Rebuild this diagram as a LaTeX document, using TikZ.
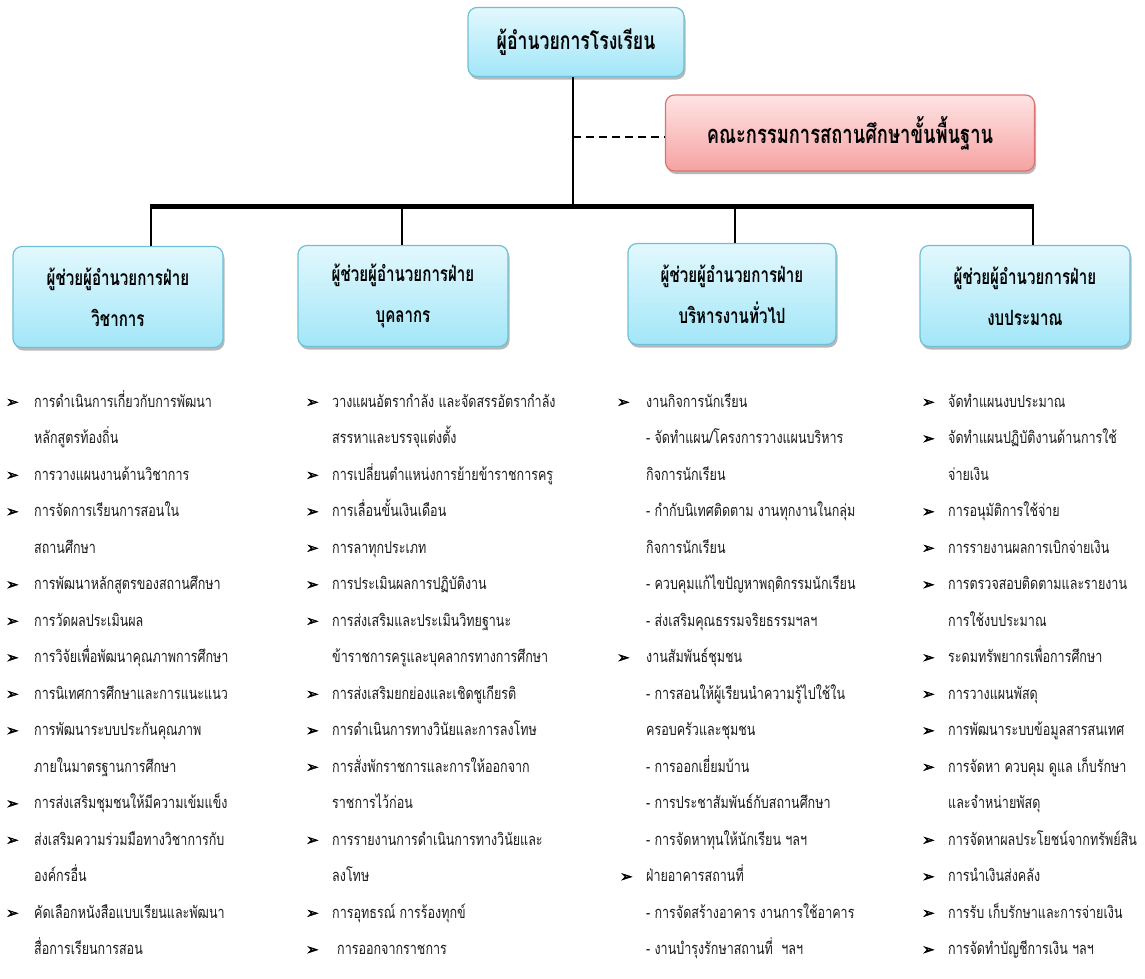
\documentclass[tikz,border=0pt]{standalone}
\usepackage{fontspec}
\usetikzlibrary{shadows}
\newfontfamily\thai[Script=Thai,FakeStretch=0.76]{Loma}
\newfontfamily\thaibox[Script=Thai,FakeStretch=0.72]{Loma}
\newfontfamily\sym[FakeBold=2.5]{DejaVu Sans}
\definecolor{boxtop}{HTML}{E2F8FD}
\definecolor{boxbot}{HTML}{A2E6F8}
\definecolor{boxline}{HTML}{6FC0D6}
\definecolor{redtop}{HTML}{FFE4E4}
\definecolor{redbot}{HTML}{F6A2A2}
\definecolor{redline}{HTML}{D87472}
\definecolor{txt}{HTML}{1C1C1C}
\tikzset{
  cbox/.style={draw=boxline, line width=1.2pt, rounded corners=9pt,
    top color=boxtop, bottom color=boxbot, align=center, text=black,
    drop shadow={shadow xshift=1.5pt, shadow yshift=-3pt, fill=black, opacity=0.28}},
  headbox/.style={cbox, minimum width=216pt, minimum height=69pt,
    font=\thaibox\bfseries\fontsize{24.5}{28}\selectfont},
  redbox/.style={cbox, draw=redline, top color=redtop, bottom color=redbot,
    minimum width=369pt, minimum height=76pt,
    font=\thaibox\bfseries\fontsize{25.5}{28}\selectfont},
  subbox/.style={cbox, minimum width=210pt, minimum height=101pt,
    font=\thaibox\bfseries\fontsize{21}{41}\selectfont},
  itm/.style={anchor=base west, inner sep=0pt, text=txt, font=\thai\fontsize{16.5}{18}\selectfont},
  bul/.style={anchor=base west, inner sep=0pt, text=black, font=\sym\fontsize{15}{16}\selectfont},
  link/.style={line width=2.2pt, black},
  barline/.style={line width=5pt, black},
  dashlink/.style={line width=2.6pt, black, dash pattern=on 8pt off 5pt}
}
\newcommand\lb[3]{\node[bul] (#1) at (#2,{407+36.5*(#3-1)}) {➢};}
\newcommand\lt[4]{\node[itm] (#1) at (#2,{407+36.5*(#3-1)}) {#4};}
\begin{document}
\begin{tikzpicture}[x=1pt,y=-1pt]
\useasboundingbox (0,0) rectangle (1145,978);
% boxes
\node[headbox] (dir) at (576,42) {ผู้อำนวยการโรงเรียน};
\node[redbox] (board) at (850,133) {คณะกรรมการสถานศึกษาขั้นพื้นฐาน};
\node[subbox] (a1) at (118,297) {ผู้ช่วยผู้อำนวยการฝ่าย\\วิชาการ};
\node[subbox] (a2) at (403,296) {ผู้ช่วยผู้อำนวยการฝ่าย\\บุคลากร};
\node[subbox, minimum width=208pt] (a3) at (732,294) {ผู้ช่วยผู้อำนวยการฝ่าย\\บริหารงานทั่วไป};
\node[subbox] (a4) at (1025,296) {ผู้ช่วยผู้อำนวยการฝ่าย\\งบประมาณ};
% connectors
\coordinate (j0) at (573,206);
\coordinate (b1) at (151,206);
\coordinate (b2) at (402,206);
\coordinate (b3) at (735,206);
\coordinate (b4) at (1033,206);
\coordinate (dj) at (573,137);
\draw[link] (dir.south -| j0) -- (j0);
\draw[dashlink] (dj) -- (dj -| board.west);
\draw[link] (b1) -- (b1 |- a1.north);
\draw[link] (b2) -- (b2 |- a2.north);
\draw[link] (b3) -- (b3 |- a3.north);
\draw[link] (b4) -- (b4 |- a4.north);
\draw[barline] ([xshift=-1pt]b1) -- ([xshift=1pt]b4);
% column 1
\lb{c1b1}{6}{1}\lt{c1t1}{34}{1}{การดำเนินการเกี่ยวกับการพัฒนา}
\lt{c1t2}{34}{2}{หลักสูตรท้องถิ่น}
\lb{c1b3}{6}{3}\lt{c1t3}{34}{3}{การวางแผนงานด้านวิชาการ}
\lb{c1b4}{6}{4}\lt{c1t4}{34}{4}{การจัดการเรียนการสอนใน}
\lt{c1t5}{34}{5}{สถานศึกษา}
\lb{c1b6}{6}{6}\lt{c1t6}{34}{6}{การพัฒนาหลักสูตรของสถานศึกษา}
\lb{c1b7}{6}{7}\lt{c1t7}{34}{7}{การวัดผลประเมินผล}
\lb{c1b8}{6}{8}\lt{c1t8}{34}{8}{การวิจัยเพื่อพัฒนาคุณภาพการศึกษา}
\lb{c1b9}{6}{9}\lt{c1t9}{34}{9}{การนิเทศการศึกษาและการแนะแนว}
\lb{c1b10}{6}{10}\lt{c1t10}{34}{10}{การพัฒนาระบบประกันคุณภาพ}
\lt{c1t11}{34}{11}{ภายในมาตรฐานการศึกษา}
\lb{c1b12}{6}{12}\lt{c1t12}{34}{12}{การส่งเสริมชุมชนให้มีความเข้มแข็ง}
\lb{c1b13}{6}{13}\lt{c1t13}{34}{13}{ส่งเสริมความร่วมมือทางวิชาการกับ}
\lt{c1t14}{34}{14}{องค์กรอื่น}
\lb{c1b15}{6}{15}\lt{c1t15}{34}{15}{คัดเลือกหนังสือแบบเรียนและพัฒนา}
\lt{c1t16}{34}{16}{สื่อการเรียนการสอน}
% column 2
\lb{c2b1}{306}{1}\lt{c2t1}{332}{1}{วางแผนอัตรากำลัง และจัดสรรอัตรากำลัง}
\lt{c2t2}{332}{2}{สรรหาและบรรจุแต่งตั้ง}
\lb{c2b3}{306}{3}\lt{c2t3}{332}{3}{การเปลี่ยนตำแหน่งการย้ายข้าราชการครู}
\lb{c2b4}{306}{4}\lt{c2t4}{332}{4}{การเลื่อนขั้นเงินเดือน}
\lb{c2b5}{306}{5}\lt{c2t5}{332}{5}{การลาทุกประเภท}
\lb{c2b6}{306}{6}\lt{c2t6}{332}{6}{การประเมินผลการปฏิบัติงาน}
\lb{c2b7}{306}{7}\lt{c2t7}{332}{7}{การส่งเสริมและประเมินวิทยฐานะ}
\lt{c2t8}{332}{8}{ข้าราชการครูและบุคลากรทางการศึกษา}
\lb{c2b9}{306}{9}\lt{c2t9}{332}{9}{การส่งเสริมยกย่องและเชิดชูเกียรติ}
\lb{c2b10}{306}{10}\lt{c2t10}{332}{10}{การดำเนินการทางวินัยและการลงโทษ}
\lb{c2b11}{306}{11}\lt{c2t11}{332}{11}{การสั่งพักราชการและการให้ออกจาก}
\lt{c2t12}{332}{12}{ราชการไว้ก่อน}
\lb{c2b13}{306}{13}\lt{c2t13}{332}{13}{การรายงานการดำเนินการทางวินัยและ}
\lt{c2t14}{332}{14}{ลงโทษ}
\lb{c2b15}{306}{15}\lt{c2t15}{332}{15}{การอุทธรณ์ การร้องทุกข์}
\lb{c2b16}{306}{16}\lt{c2t16}{337}{16}{การออกจากราชการ}
% column 3
\lb{c3b1}{617}{1}\lt{c3t1}{646}{1}{งานกิจการนักเรียน}
\lt{c3t2}{646}{2}{- จัดทำแผน/โครงการวางแผนบริหาร}
\lt{c3t3}{646}{3}{กิจการนักเรียน}
\lt{c3t4}{646}{4}{- กำกับนิเทศติดตาม งานทุกงานในกลุ่ม}
\lt{c3t5}{646}{5}{กิจการนักเรียน}
\lt{c3t6}{646}{6}{- ควบคุมแก้ไขปัญหาพฤติกรรมนักเรียน}
\lt{c3t7}{646}{7}{- ส่งเสริมคุณธรรมจริยธรรมฯลฯ}
\lb{c3b8}{617}{8}\lt{c3t8}{646}{8}{งานสัมพันธ์ชุมชน}
\lt{c3t9}{646}{9}{- การสอนให้ผู้เรียนนำความรู้ไปใช้ใน}
\lt{c3t10}{646}{10}{ครอบครัวและชุมชน}
\lt{c3t11}{646}{11}{- การออกเยี่ยมบ้าน}
\lt{c3t12}{646}{12}{- การประชาสัมพันธ์กับสถานศึกษา}
\lt{c3t13}{646}{13}{- การจัดหาทุนให้นักเรียน ฯลฯ}
\lb{c3b14}{620}{14}\lt{c3t14}{646}{14}{ฝ่ายอาคารสถานที่}
\lt{c3t15}{646}{15}{- การจัดสร้างอาคาร งานการใช้อาคาร}
\lt{c3t16}{646}{16}{- งานบำรุงรักษาสถานที่ \ ฯลฯ}
% column 4
\lb{c4b1}{922}{1}\lt{c4t1}{948}{1}{จัดทำแผนงบประมาณ}
\lb{c4b2}{922}{2}\lt{c4t2}{948}{2}{จัดทำแผนปฏิบัติงานด้านการใช้}
\lt{c4t3}{948}{3}{จ่ายเงิน}
\lb{c4b4}{922}{4}\lt{c4t4}{948}{4}{การอนุมัติการใช้จ่าย}
\lb{c4b5}{922}{5}\lt{c4t5}{948}{5}{การรายงานผลการเบิกจ่ายเงิน}
\lb{c4b6}{922}{6}\lt{c4t6}{948}{6}{การตรวจสอบติดตามและรายงาน}
\lt{c4t7}{948}{7}{การใช้งบประมาณ}
\lb{c4b8}{922}{8}\lt{c4t8}{948}{8}{ระดมทรัพยากรเพื่อการศึกษา}
\lb{c4b9}{922}{9}\lt{c4t9}{948}{9}{การวางแผนพัสดุ}
\lb{c4b10}{922}{10}\lt{c4t10}{948}{10}{การพัฒนาระบบข้อมูลสารสนเทศ}
\lb{c4b11}{922}{11}\lt{c4t11}{948}{11}{การจัดหา ควบคุม ดูแล เก็บรักษา}
\lt{c4t12}{948}{12}{และจำหน่ายพัสดุ}
\lb{c4b13}{922}{13}\lt{c4t13}{948}{13}{การจัดหาผลประโยชน์จากทรัพย์สิน}
\lb{c4b14}{922}{14}\lt{c4t14}{948}{14}{การนำเงินส่งคลัง}
\lb{c4b15}{922}{15}\lt{c4t15}{948}{15}{การรับ เก็บรักษาและการจ่ายเงิน}
\lb{c4b16}{922}{16}\lt{c4t16}{948}{16}{การจัดทำบัญชีการเงิน ฯลฯ}
\end{tikzpicture}
\end{document}
